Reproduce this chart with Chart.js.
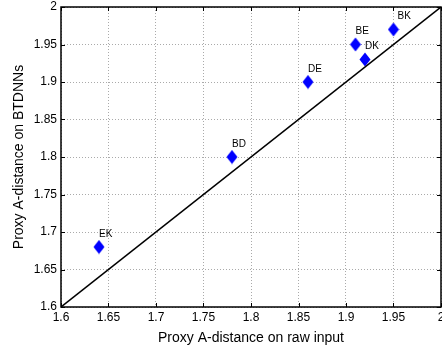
<!DOCTYPE html>
<html>
<head>
<meta charset="utf-8">
<script src="https://cdn.jsdelivr.net/npm/chart.js@4/dist/chart.umd.min.js"></script>
<style>
  html, body { margin: 0; padding: 0; background: #fff; }
  #wrap { width: 442px; height: 347px; }
</style>
</head>
<body>
<div id="wrap"><canvas id="chart" width="442" height="347"></canvas></div>
<script>
// data
const pairs = ['EK', 'BD', 'DE', 'BE', 'DK', 'BK'];
const rawInput = [1.64, 1.78, 1.86, 1.91, 1.92, 1.95];
const btdnn = [1.68, 1.80, 1.90, 1.95, 1.93, 1.97];
const diagX = [1.6, 2.0];
const diagY = [1.6, 2.0];
const tickLabels = ['1.6', '1.65', '1.7', '1.75', '1.8', '1.85', '1.9', '1.95', '2'];

const FONT = 'Liberation Sans, Arial, Helvetica, sans-serif';

// tall blue diamond marker
const diamond = document.createElement('canvas');
diamond.width = 12; diamond.height = 15;
(function () {
  const c = diamond.getContext('2d');
  c.fillStyle = '#0000ff';
  c.beginPath();
  c.moveTo(6, 0.5); c.lineTo(11.5, 7.5); c.lineTo(6, 14.5); c.lineTo(0.5, 7.5);
  c.closePath(); c.fill();
})();

const boxPlugin = {
  id: 'box',
  afterDraw(chart) {
    const { ctx, chartArea: a, scales } = chart;
    ctx.save();
    ctx.strokeStyle = '#000';
    ctx.lineWidth = 1;
    // inward tick marks on all four sides
    ctx.beginPath();
    scales.x.ticks.forEach(t => {
      const px = Math.round(scales.x.getPixelForValue(t.value)) + 0.5;
      ctx.moveTo(px, a.bottom); ctx.lineTo(px, a.bottom - 4);
      ctx.moveTo(px, a.top); ctx.lineTo(px, a.top + 4);
    });
    scales.y.ticks.forEach(t => {
      const py = Math.round(scales.y.getPixelForValue(t.value)) + 0.5;
      ctx.moveTo(a.left, py); ctx.lineTo(a.left + 4, py);
      ctx.moveTo(a.right, py); ctx.lineTo(a.right - 4, py);
    });
    ctx.stroke();
    ctx.lineWidth = 1.5;
    ctx.strokeRect(a.left, a.top, a.right - a.left, a.bottom - a.top);
    // point labels
    ctx.fillStyle = '#000';
    ctx.font = '10px ' + FONT;
    ctx.textAlign = 'left';
    ctx.textBaseline = 'middle';
    pairs.forEach((p, i) => {
      const px = scales.x.getPixelForValue(rawInput[i]);
      const py = scales.y.getPixelForValue(btdnn[i]);
      ctx.fillText(p, px + (i === 5 ? 4 : 0), py - 13);
    });
    ctx.restore();
  }
};

new Chart(document.getElementById('chart'), {
  type: 'scatter',
  data: {
    datasets: [
      {
        type: 'line',
        data: diagX.map((x, i) => ({ x: x, y: diagY[i] })),
        borderColor: '#000',
        borderWidth: 1.5,
        pointRadius: 0,
        fill: false
      },
      {
        data: rawInput.map((x, i) => ({ x: x, y: btdnn[i] })),
        pointStyle: diamond,
        pointRadius: 7,
        backgroundColor: '#0000ff',
        borderColor: '#0000ff'
      }
    ]
  },
  options: {
    responsive: false,
    animation: false,
    layout: { autoPadding: false, padding: { top: 7, right: 1, left: 0, bottom: 0 } },
    plugins: {
      legend: { display: false },
      tooltip: { enabled: false }
    },
    scales: {
      x: {
        type: 'linear',
        min: 1.6, max: 2,
        afterBuildTicks(s) {
          s.ticks = tickLabels.map(v => ({ value: parseFloat(v) }));
        },
        afterFit(s) { s.height = 40; s.paddingLeft = 0; s.paddingRight = 0; },
        ticks: {
          color: '#000',
          font: { family: FONT, size: 12 },
          padding: 3,
          maxRotation: 0,
          autoSkip: false,
          callback: (v, i) => tickLabels[i]
        },
        grid: { color: '#aaa', drawTicks: false, lineWidth: 1 },
        border: { display: false, dash: [1, 2] },
        title: {
          display: true,
          text: 'Proxy A-distance on raw input',
          color: '#000',
          font: { family: FONT, size: 14 },
          padding: { top: 0, bottom: 0 }
        }
      },
      y: {
        type: 'linear',
        min: 1.6, max: 2,
        afterBuildTicks(s) {
          s.ticks = tickLabels.map(v => ({ value: parseFloat(v) }));
        },
        afterFit(s) { s.width = 61; s.paddingTop = 0; s.paddingBottom = 0; },
        ticks: {
          color: '#000',
          font: { family: FONT, size: 12 },
          padding: 4,
          autoSkip: false,
          callback: (v, i) => tickLabels[i]
        },
        grid: { color: '#aaa', drawTicks: false, lineWidth: 1 },
        border: { display: false, dash: [1, 2] },
        title: {
          display: true,
          text: 'Proxy A-distance on BTDNNs',
          color: '#000',
          font: { family: FONT, size: 14 },
          padding: { top: 11, bottom: 2 }
        }
      }
    }
  },
  plugins: [boxPlugin]
});
</script>
</body>
</html>
